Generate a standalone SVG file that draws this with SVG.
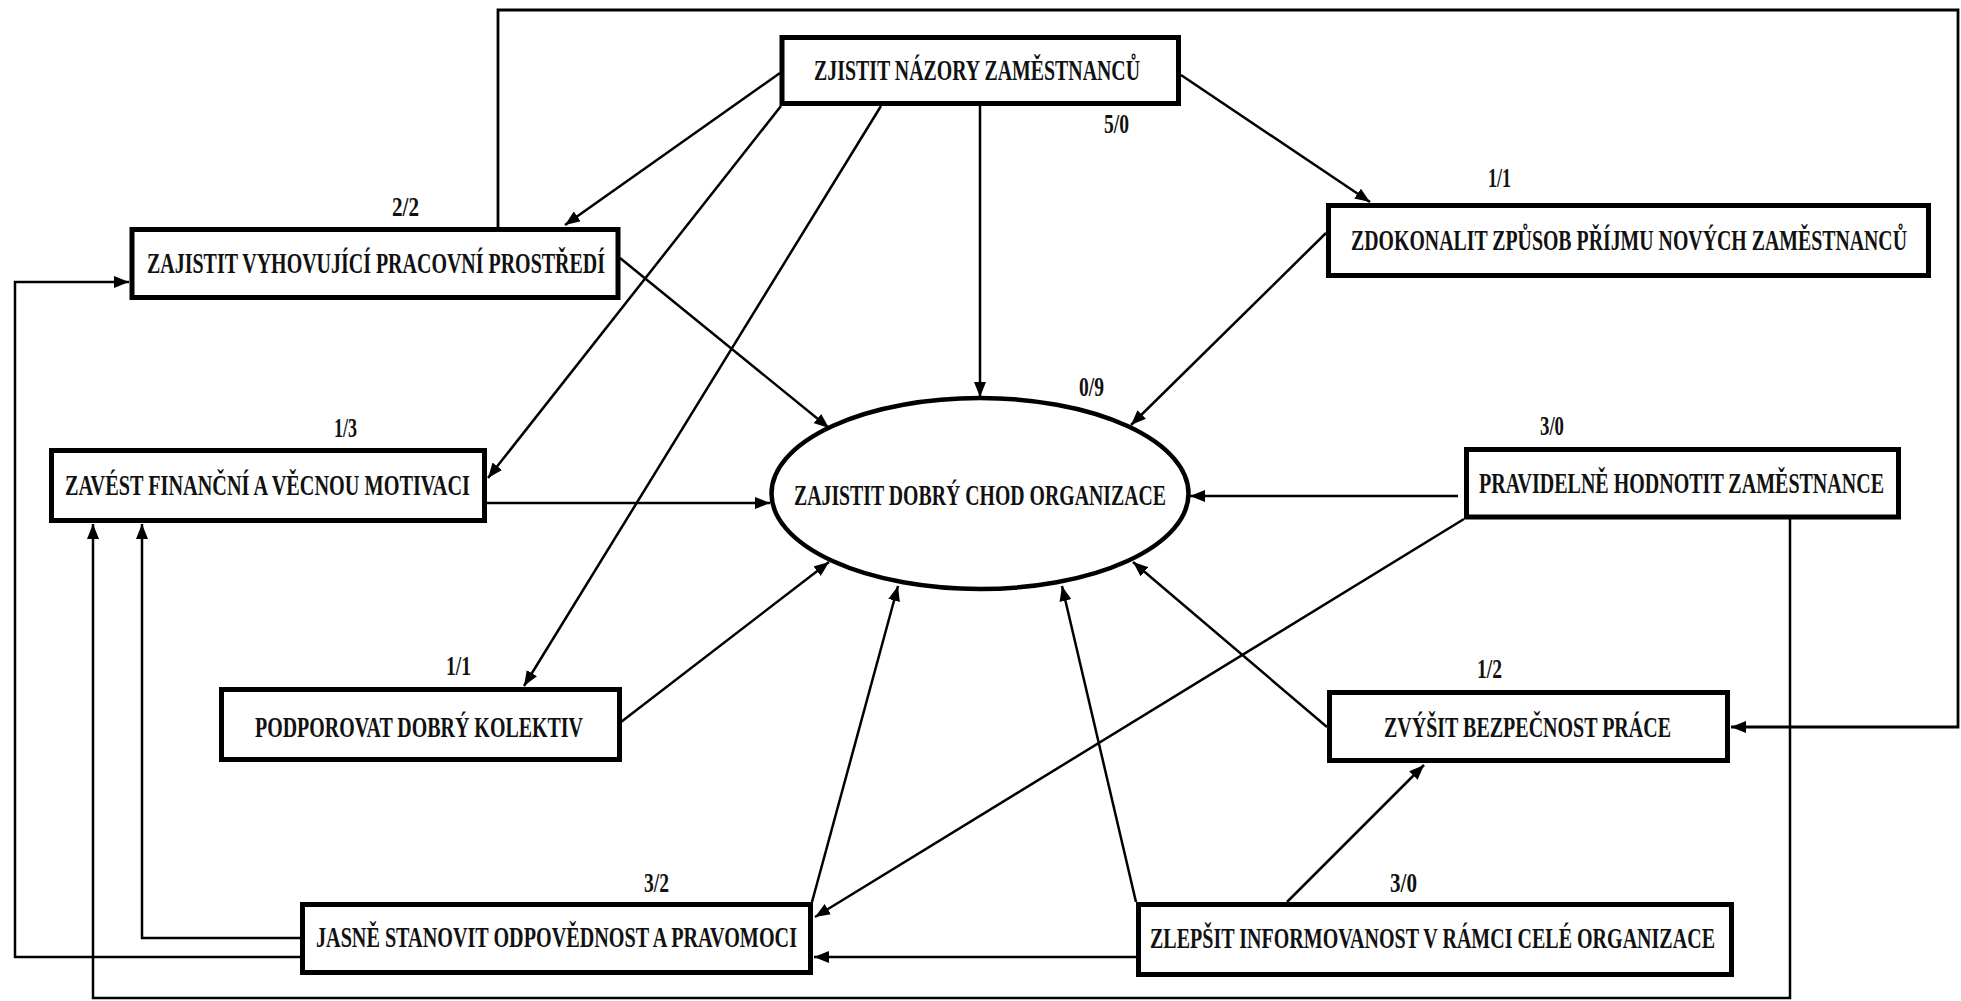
<svg xmlns="http://www.w3.org/2000/svg" width="1961" height="1001" viewBox="0 0 1961 1001">
  <style>
    .box { fill: #ffffff; stroke: #000000; stroke-width: 5; }
    .oval { fill: #ffffff; stroke: #000000; stroke-width: 4.5; }
    .t { font-family: "Liberation Serif", "Times New Roman", serif; font-weight: bold; font-size: 29px; fill: #111111; }
    .n { font-family: "Liberation Serif", "Times New Roman", serif; font-weight: bold; font-size: 27px; fill: #111111; }
    .c { fill: none; stroke: #000000; stroke-width: 2.5; }
    .cf { fill: none; stroke: #000000; stroke-width: 2.8; }
  </style>
  <defs>
    <!-- filled arrowhead shared by every connector -->
    <marker id="arr" viewBox="0 0 15 12" refX="15" refY="6" markerWidth="15" markerHeight="12" markerUnits="userSpaceOnUse" orient="auto">
      <path d="M0,0 L15,6 L0,12 z" fill="#000000"/>
    </marker>
  </defs>
  <rect width="1961" height="1001" fill="#ffffff"/>

  <!-- connectors -->
  <g id="connectors">
    <line class="c" x1="780" y1="73" x2="565" y2="225" marker-end="url(#arr)"/>
    <line class="c" x1="781" y1="106" x2="488" y2="478" marker-end="url(#arr)"/>
    <line class="c" x1="881" y1="106" x2="524" y2="686" marker-end="url(#arr)"/>
    <line class="c" x1="980" y1="106" x2="980" y2="397" marker-end="url(#arr)"/>
    <line class="c" x1="1181" y1="75" x2="1370" y2="202" marker-end="url(#arr)"/>
    <line class="c" x1="620" y1="258" x2="829" y2="428" marker-end="url(#arr)"/>
    <line class="c" x1="1326" y1="233" x2="1131" y2="425" marker-end="url(#arr)"/>
    <line class="c" x1="487" y1="503" x2="770" y2="503" marker-end="url(#arr)"/>
    <line class="c" x1="1458" y1="496" x2="1190" y2="496" marker-end="url(#arr)"/>
    <line class="c" x1="621" y1="722" x2="829" y2="562" marker-end="url(#arr)"/>
    <line class="c" x1="812" y1="902" x2="898" y2="586" marker-end="url(#arr)"/>
    <line class="c" x1="1136" y1="902" x2="1062" y2="586" marker-end="url(#arr)"/>
    <line class="c" x1="1327" y1="727" x2="1133" y2="562" marker-end="url(#arr)"/>
    <line class="c" x1="1464" y1="519" x2="815" y2="917" marker-end="url(#arr)"/>
    <line class="c" x1="1136" y1="957" x2="814" y2="957" marker-end="url(#arr)"/>
    <line class="c" x1="1287" y1="902" x2="1424" y2="765" marker-end="url(#arr)"/>
    <polyline class="cf" points="498,227 498,10 1958,10 1958,727 1731,727" marker-end="url(#arr)"/>
    <polyline class="c" points="300,957 15,957 15,282 129,282" marker-end="url(#arr)"/>
    <polyline class="c" points="300,938 142,938 142,524" marker-end="url(#arr)"/>
    <polyline class="c" points="1790,519 1790,998 93,998 93,524" marker-end="url(#arr)"/>
  </g>

  <!-- nodes: narrow bold serif lettering, squeezed horizontally -->
  <g id="n-zjistit-nazory">
    <rect class="box" x="782" y="37.5" width="396.5" height="66"/>
    <text class="t" transform="translate(814,80) scale(0.685,1)" textLength="476" lengthAdjust="spacingAndGlyphs">ZJISTIT NÁZORY ZAMĚSTNANCŮ</text>
    <text class="n" transform="translate(1104,133) scale(0.685,1)" textLength="36.5" lengthAdjust="spacingAndGlyphs">5/0</text>
  </g>

  <g id="n-pracovni-prostredi">
    <rect class="box" x="132" y="229.5" width="486" height="68"/>
    <text class="t" transform="translate(147,273) scale(0.685,1)" textLength="668.6" lengthAdjust="spacingAndGlyphs">ZAJISTIT VYHOVUJÍCÍ PRACOVNÍ PROSTŘEDÍ</text>
    <text class="n" transform="translate(392,216) scale(0.685,1)" textLength="39.4" lengthAdjust="spacingAndGlyphs">2/2</text>
  </g>

  <g id="n-prijem">
    <rect class="box" x="1328.5" y="205.5" width="600" height="70"/>
    <text class="t" transform="translate(1351,250) scale(0.685,1)" textLength="811.7" lengthAdjust="spacingAndGlyphs">ZDOKONALIT ZPŮSOB PŘÍJMU NOVÝCH ZAMĚSTNANCŮ</text>
    <text class="n" transform="translate(1488,187) scale(0.685,1)" textLength="33.6" lengthAdjust="spacingAndGlyphs">1/1</text>
  </g>

  <g id="n-motivace">
    <rect class="box" x="51.5" y="450.5" width="433" height="70"/>
    <text class="t" transform="translate(65,495) scale(0.685,1)" textLength="591.2" lengthAdjust="spacingAndGlyphs">ZAVÉST FINANČNÍ A VĚCNOU MOTIVACI</text>
    <text class="n" transform="translate(334,437) scale(0.685,1)" textLength="33.6" lengthAdjust="spacingAndGlyphs">1/3</text>
  </g>

  <g id="n-chod-organizace">
    <ellipse class="oval" cx="980" cy="493.5" rx="208.5" ry="95.5"/>
    <text class="t" transform="translate(794,505) scale(0.685,1)" textLength="543.1" lengthAdjust="spacingAndGlyphs">ZAJISTIT DOBRÝ CHOD ORGANIZACE</text>
    <text class="n" transform="translate(1079,396) scale(0.685,1)" textLength="36.5" lengthAdjust="spacingAndGlyphs">0/9</text>
  </g>

  <g id="n-hodnotit">
    <rect class="box" x="1466.5" y="449.5" width="432" height="67.5"/>
    <text class="t" transform="translate(1479,493) scale(0.685,1)" textLength="591.2" lengthAdjust="spacingAndGlyphs">PRAVIDELNĚ HODNOTIT ZAMĚSTNANCE</text>
    <text class="n" transform="translate(1540,435) scale(0.685,1)" textLength="35" lengthAdjust="spacingAndGlyphs">3/0</text>
  </g>

  <g id="n-kolektiv">
    <rect class="box" x="221.5" y="689.5" width="398" height="70"/>
    <text class="t" transform="translate(255,737) scale(0.685,1)" textLength="478.8" lengthAdjust="spacingAndGlyphs">PODPOROVAT DOBRÝ KOLEKTIV</text>
    <text class="n" transform="translate(446,675) scale(0.685,1)" textLength="36.5" lengthAdjust="spacingAndGlyphs">1/1</text>
  </g>

  <g id="n-bezpecnost">
    <rect class="box" x="1329.5" y="692.5" width="398" height="68"/>
    <text class="t" transform="translate(1384,737) scale(0.685,1)" textLength="419" lengthAdjust="spacingAndGlyphs">ZVÝŠIT BEZPEČNOST PRÁCE</text>
    <text class="n" transform="translate(1477,678) scale(0.685,1)" textLength="36.5" lengthAdjust="spacingAndGlyphs">1/2</text>
  </g>

  <g id="n-odpovednost">
    <rect class="box" x="302.5" y="904.5" width="508" height="68"/>
    <text class="t" transform="translate(316,947) scale(0.685,1)" textLength="702.2" lengthAdjust="spacingAndGlyphs">JASNĚ STANOVIT ODPOVĚDNOST A PRAVOMOCI</text>
    <text class="n" transform="translate(644,892) scale(0.685,1)" textLength="36.5" lengthAdjust="spacingAndGlyphs">3/2</text>
  </g>

  <g id="n-informovanost">
    <rect class="box" x="1138.5" y="904.5" width="593" height="70"/>
    <text class="t" transform="translate(1150,948) scale(0.685,1)" textLength="824.8" lengthAdjust="spacingAndGlyphs">ZLEPŠIT INFORMOVANOST V RÁMCI CELÉ ORGANIZACE</text>
    <text class="n" transform="translate(1390,892) scale(0.685,1)" textLength="39.4" lengthAdjust="spacingAndGlyphs">3/0</text>
  </g>
</svg>
